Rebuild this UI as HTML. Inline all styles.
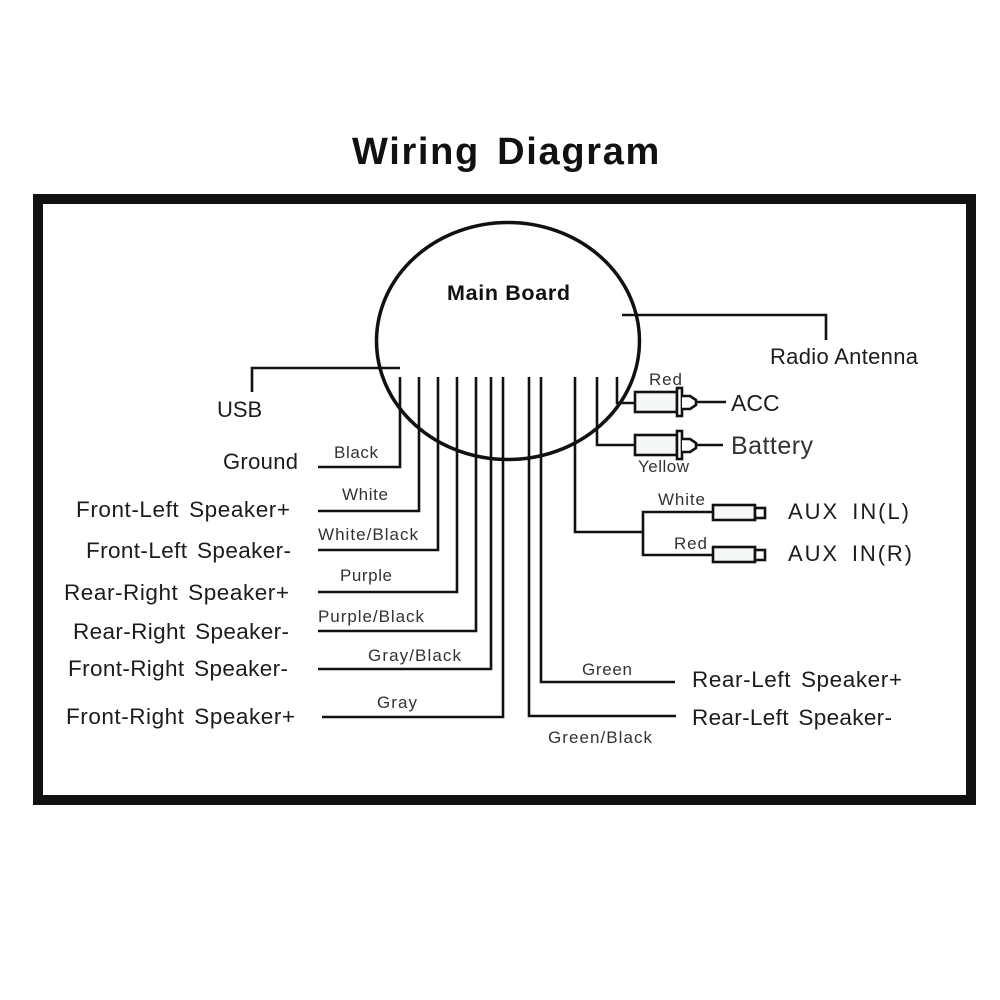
<!DOCTYPE html>
<html>
<head>
<meta charset="utf-8">
<style>
html,body{margin:0;padding:0;background:#fff;width:1000px;height:1000px;overflow:hidden}
svg{display:block}
text{font-family:"Liberation Sans",sans-serif;fill:#1c1c1c}
.s{font-size:17px;fill:#333}
.m{font-size:22.5px;word-spacing:3px}
</style>
</head>
<body>
<svg width="1000" height="1000" viewBox="0 0 1000 1000" xmlns="http://www.w3.org/2000/svg">
<text x="352" y="164" textLength="309" font-size="38" font-weight="bold" letter-spacing="1.7" word-spacing="5" style="fill:#111">Wiring Diagram</text>
<rect x="38" y="199" width="933" height="601" fill="none" stroke="#111" stroke-width="10"/>
<ellipse cx="508" cy="341" rx="131.5" ry="118.5" fill="none" stroke="#111" stroke-width="3.5"/>
<g fill="none" stroke="#111" stroke-width="2.6">
<path d="M252 392V368H400"/>
<path d="M318 467H400V377"/>
<path d="M318 511H419V377"/>
<path d="M318 550H438V377"/>
<path d="M318 592H457V377"/>
<path d="M318 631H476V377"/>
<path d="M318 669H491V377"/>
<path d="M322 717H503V377"/>
<path d="M529 377V716H676"/>
<path d="M541 377V682H675"/>
<path d="M575 377V532H643"/>
<path d="M713 512H643V555H713"/>
<path d="M597 377V445H635"/>
<path d="M617 377V403H635"/>
<path d="M622 315H826V340"/>
<path d="M695 402H726"/>
<path d="M695 445H723"/>
<rect x="635" y="392" width="42" height="20" fill="#f6f8f8"/>
<rect x="677" y="388" width="5" height="28" fill="#fff"/>
<path d="M682 396H690L696 400V405L690 409H682" fill="#fff"/>
<rect x="635" y="435" width="42" height="20" fill="#f6f8f8"/>
<rect x="677" y="431" width="5" height="28" fill="#fff"/>
<path d="M682 439H690L696 443V448L690 452H682" fill="#fff"/>
<rect x="713" y="505" width="42" height="15" fill="#f6f8f8"/>
<rect x="755" y="508" width="10" height="10" fill="#fff"/>
<rect x="713" y="547" width="42" height="15" fill="#f6f8f8"/>
<rect x="755" y="550" width="10" height="10" fill="#fff"/>
</g>
<text x="447" y="300" font-size="21.5" font-weight="bold" textLength="123" style="fill:#111">Main Board</text>
<text x="770" y="364" font-size="22" textLength="148">Radio Antenna</text>
<text x="217" y="417" font-size="22">USB</text>
<text x="223" y="469" font-size="22" textLength="75">Ground</text>
<text class="m" x="76" y="517" textLength="214">Front-Left Speaker+</text>
<text class="m" x="86" y="558" textLength="205">Front-Left Speaker-</text>
<text class="m" x="64" y="600" textLength="225">Rear-Right Speaker+</text>
<text class="m" x="73" y="639" textLength="216">Rear-Right Speaker-</text>
<text class="m" x="68" y="676" textLength="220">Front-Right Speaker-</text>
<text class="m" x="66" y="724" textLength="229">Front-Right Speaker+</text>
<text class="m" x="692" y="687" textLength="210">Rear-Left Speaker+</text>
<text class="m" x="692" y="725" textLength="200">Rear-Left Speaker-</text>
<text x="731" y="411" font-size="23">ACC</text>
<text x="731" y="454" font-size="25" textLength="82" style="fill:#333">Battery</text>
<text x="788" y="519" font-size="22" textLength="121" word-spacing="5">AUX IN(L)</text>
<text x="788" y="561" font-size="22" textLength="124" word-spacing="5">AUX IN(R)</text>
<text class="s" x="334" y="458" textLength="44">Black</text>
<text class="s" x="342" y="500" textLength="46">White</text>
<text class="s" x="318" y="540" textLength="100">White/Black</text>
<text class="s" x="340" y="581" textLength="52">Purple</text>
<text class="s" x="318" y="622" textLength="106">Purple/Black</text>
<text class="s" x="368" y="661" textLength="93">Gray/Black</text>
<text class="s" x="377" y="708" textLength="40">Gray</text>
<text class="s" x="582" y="675" textLength="50">Green</text>
<text class="s" x="548" y="743" textLength="104">Green/Black</text>
<text class="s" x="649" y="385" textLength="33">Red</text>
<text class="s" x="638" y="472" textLength="51">Yellow</text>
<text class="s" x="658" y="505" textLength="47">White</text>
<text class="s" x="674" y="549" textLength="33">Red</text>
</svg>
</body>
</html>
